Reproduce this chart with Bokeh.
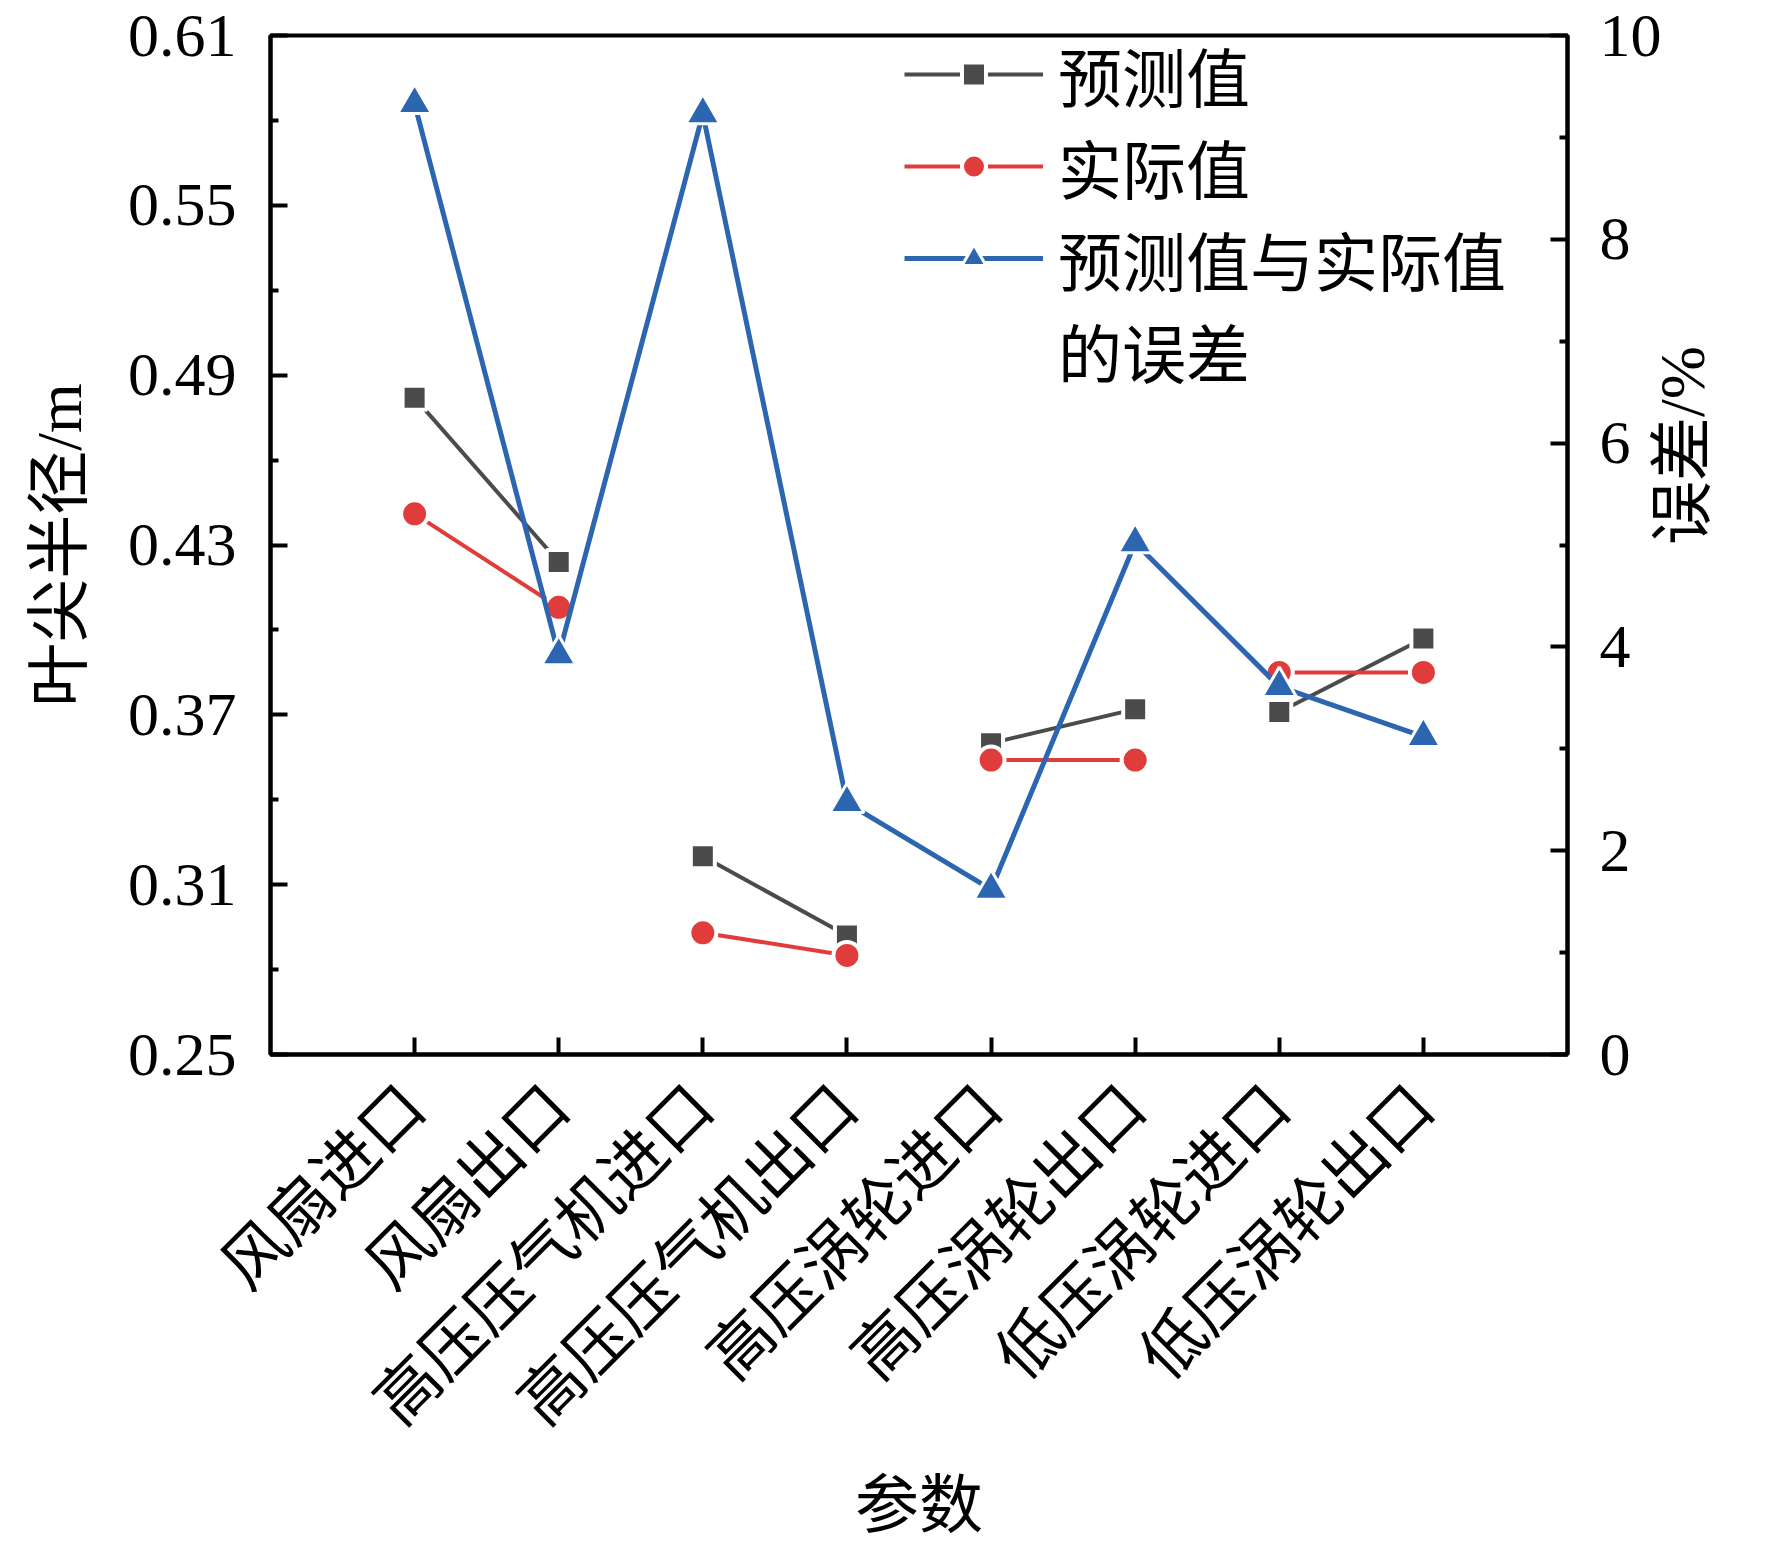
from math import pi
from bokeh.plotting import figure
from bokeh.models import (FactorRange, Range1d, LinearAxis, FixedTicker, NumeralTickFormatter,
                          Legend, LegendItem)
from bokeh.embed import file_html
from bokeh.resources import INLINE

# ---- data ----
categories = ["风扇进口", "风扇出口", "高压压气机进口", "高压压气机出口",
              "高压涡轮进口", "高压涡轮出口", "低压涡轮进口", "低压涡轮出口"]
predicted = [0.482, 0.424, 0.320, 0.292, 0.360, 0.372, 0.371, 0.397]
actual = [0.441, 0.408, 0.293, 0.285, 0.354, 0.354, 0.385, 0.385]
error_pct = [9.33, 3.92, 9.23, 2.47, 1.62, 5.02, 3.61, 3.12]
pairs = [(0, 1), (2, 3), (4, 5), (6, 7)]

left_ticks = [0.25, 0.31, 0.37, 0.43, 0.49, 0.55, 0.61]
left_minor = [0.28, 0.34, 0.40, 0.46, 0.52, 0.58]
right_ticks = [0, 2, 4, 6, 8, 10]
right_minor = [1, 3, 5, 7, 9]

series_names = ["预测值", "实际值", "预测值与实际值", "的误差"]
y_title = "叶尖半径/m"
y2_title = "误差/%"
x_title = "参数"

GRAY = "#4b4b4b"
RED = "#e03c3c"
BLUE = "#2c66b0"
SERIF = "'Liberation Serif', 'Noto Sans CJK SC'"

W, H = 1756, 1544
p = figure(width=W, height=H,
           x_range=FactorRange(factors=categories, range_padding=0.5, range_padding_units="absolute"),
           y_range=Range1d(0.25, 0.61),
           output_backend="svg", toolbar_location=None,
           min_border_left=270, min_border_right=W - 1567, min_border_top=35, min_border_bottom=H - 1055)
p.extra_y_ranges = {"err": Range1d(0, 10)}

p.xgrid.visible = False
p.ygrid.visible = False
p.outline_line_color = "black"
p.outline_line_width = 4
p.outline_line_alpha = 1.0
p.background_fill_color = "white"
p.border_fill_color = "white"

right_axis = LinearAxis(y_range_name="err", ticker=FixedTicker(ticks=right_ticks, minor_ticks=right_minor))
p.add_layout(right_axis, "right")

p.yaxis[0].ticker = FixedTicker(ticks=left_ticks, minor_ticks=left_minor)
p.yaxis[0].formatter = NumeralTickFormatter(format="0.00")

for ax in [p.xaxis[0], p.yaxis[0], right_axis]:
    ax.axis_line_width = 4
    ax.axis_line_color = "black"
    ax.major_tick_line_width = 4
    ax.minor_tick_line_width = 4
    ax.major_tick_in = 17
    ax.major_tick_out = 0
    ax.minor_tick_in = 8
    ax.minor_tick_out = 0
    ax.major_label_text_color = "black"
    ax.major_label_text_font = SERIF
    ax.major_label_text_font_size = "62px"
    ax.axis_label_text_font_style = "normal"
    ax.axis_label_text_color = "black"
    ax.axis_label_text_font = SERIF
    ax.axis_label_text_font_size = "64px"
    ax.major_label_standoff = 34

p.xaxis[0].major_label_orientation = pi / 4
p.xaxis[0].major_label_text_font_size = "64px"
p.xaxis[0].major_label_standoff = 42
p.xaxis[0].axis_label = x_title
p.xaxis[0].axis_label_standoff = 4

p.yaxis[0].axis_label = y_title
p.yaxis[0].axis_label_standoff = 30

right_axis.major_label_standoff = 32
right_axis.axis_label = y2_title
right_axis.axis_label_standoff = 18
if hasattr(right_axis, "axis_label_orientation"):
    right_axis.axis_label_orientation = pi / 2

# ---- series ----
def pair_xs():
    return [[categories[a], categories[b]] for a, b in pairs]

gray_ml = p.multi_line(xs=pair_xs(), ys=[[predicted[a], predicted[b]] for a, b in pairs],
                       line_color=GRAY, line_width=4)
gray_sc = p.scatter(x=categories, y=predicted, marker="square", size=24,
                    fill_color=GRAY, line_color="white", line_width=4)

red_ml = p.multi_line(xs=pair_xs(), ys=[[actual[a], actual[b]] for a, b in pairs],
                      line_color=RED, line_width=4)
red_sc = p.scatter(x=categories, y=actual, marker="circle", size=27,
                   fill_color=RED, line_color="white", line_width=4)

blue_ln = p.line(x=categories, y=error_pct, y_range_name="err", line_color=BLUE, line_width=5)
blue_sc = p.scatter(x=categories, y=error_pct, y_range_name="err", marker="triangle", size=34,
                    fill_color=BLUE, line_color="white", line_width=3)

dummy = p.line(x=[], y=[], line_alpha=0)

legend = Legend(items=[
    LegendItem(label=series_names[0], renderers=[gray_ml, gray_sc]),
    LegendItem(label=series_names[1], renderers=[red_ml, red_sc]),
    LegendItem(label=series_names[2], renderers=[blue_ln, blue_sc]),
    LegendItem(label=series_names[3], renderers=[dummy]),
], location=(634, 658), orientation="vertical",
    border_line_alpha=0, background_fill_alpha=0,
    label_text_font=SERIF, label_text_font_size="64px", label_text_color="black",
    glyph_width=139, glyph_height=60, label_height=84, label_standoff=15,
    spacing=0, padding=0, margin=0)
p.add_layout(legend, "center")

open("out.html", "w").write(file_html(p, INLINE))
